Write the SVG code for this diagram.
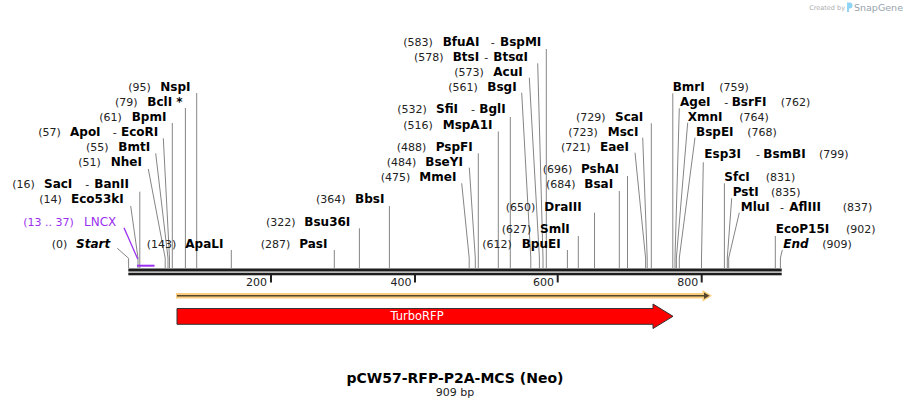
<svg xmlns="http://www.w3.org/2000/svg" width="910" height="408" viewBox="0 0 910 408">
<style>
text{font-family:"DejaVu Sans",Verdana,sans-serif}
.p{font-size:11px;fill:#222}
.n{font-size:12px;font-weight:bold;fill:#000}
.i{font-style:italic}
.d{font-size:11px;fill:#222}
.ln{stroke:#858585;stroke-width:1;fill:none}
.pu{fill:#9b30f0}
.tk{fill:#222}
</style>
<rect width="910" height="408" fill="#fff"/>

<g id="watermark">
<text x="845" y="10" font-size="6.5" fill="#adadad" text-anchor="end">Created by</text>
<path d="M847,2.5 h2.6 a3,3 0 0 1 0,6 h-0.6 v3.5 h-2 z" fill="#8fd3f5"/>
<text x="854" y="10.5" font-size="9.5" fill="#97a2ac">SnapGene</text>
</g>

<g id="connectors">
<polyline class="ln" points="196.7,93 196.7,268"/>
<polyline class="ln" points="185.4,108 185.4,268"/>
<polyline class="ln" points="172.3,123 172.3,268"/>
<polyline class="ln" points="163.3,138.3 169.5,258 169.5,268"/>
<polyline class="ln" points="155.7,153.3 168,258 168,268"/>
<polyline class="ln" points="148.3,169 165.2,258 165.2,268"/>
<polyline class="ln" points="139.8,191.7 139.8,268"/>
<polyline class="ln" points="130.7,206 138,258 138,268"/>
<polyline class="ln" points="117.3,248.3 128.6,258.3 128.6,268"/>
<polyline class="ln" points="231.3,250 231.3,268"/>
<polyline class="ln" points="546.3,49 546.3,268"/>
<polyline class="ln" points="537.7,63.3 543,258 543,268"/>
<polyline class="ln" points="529.3,77.7 539.4,258 539.4,268"/>
<polyline class="ln" points="521.7,92.7 530.8,258 530.8,268"/>
<polyline class="ln" points="510.3,117 510.3,268"/>
<polyline class="ln" points="498.3,131.5 498.3,268"/>
<polyline class="ln" points="478.3,153.3 478.3,268"/>
<polyline class="ln" points="469.3,167.7 475.3,258 475.3,268"/>
<polyline class="ln" points="461.7,183.3 469.2,258 469.2,268"/>
<polyline class="ln" points="389.4,206 389.4,268"/>
<polyline class="ln" points="359.4,228.3 359.4,268"/>
<polyline class="ln" points="334.3,250 334.3,268"/>
<polyline class="ln" points="567.4,250 567.4,268"/>
<polyline class="ln" points="578.3,236 578.3,268"/>
<polyline class="ln" points="594.5,212.7 594.5,268"/>
<polyline class="ln" points="619.3,191 619.3,268"/>
<polyline class="ln" points="627.5,176 627.5,268"/>
<polyline class="ln" points="635,152.7 645.6,258 645.6,268"/>
<polyline class="ln" points="642.7,137.7 647.2,258 647.2,268"/>
<polyline class="ln" points="651.3,123.3 651.3,268"/>
<polyline class="ln" points="672.8,93.3 672.8,268"/>
<polyline class="ln" points="679.3,108.3 675,258 675,268"/>
<polyline class="ln" points="687.7,122.7 676.4,258 676.4,268"/>
<polyline class="ln" points="695,137.7 679.3,258 679.3,268"/>
<polyline class="ln" points="703.3,162.3 701.5,258 701.5,268"/>
<polyline class="ln" points="724.4,183.3 724.4,268"/>
<polyline class="ln" points="731.7,198.3 727.3,258 727.3,268"/>
<polyline class="ln" points="739.3,212.7 728.7,258 728.7,268"/>
<polyline class="ln" points="775.3,236 775.3,268"/>
<polyline class="ln" points="782.3,250 780.4,258 780.4,268"/>
<line x1="124" y1="227.7" x2="137.7" y2="259" stroke="#9b30f0" stroke-width="1.3"/>
</g>

<g id="backbone">
<rect x="128.3" y="268.5" width="653.4" height="3" fill="#1e1e1e"/>
<rect x="128.3" y="272.7" width="653.4" height="2.6" fill="#1e1e1e"/>
<rect class="tk" x="270" y="275" width="2" height="7.5"/>
<rect class="tk" x="414" y="275" width="2" height="7.5"/>
<rect class="tk" x="556.7" y="275" width="2" height="7.5"/>
<rect class="tk" x="700.7" y="275" width="2" height="7.5"/>
<text class="d" x="267" y="285.7" text-anchor="end">200</text>
<text class="d" x="411.5" y="285.7" text-anchor="end">400</text>
<text class="d" x="554" y="285.7" text-anchor="end">600</text>
<text class="d" x="698.3" y="285.7" text-anchor="end">800</text>
</g>

<g id="LNCX">
<rect class="pu" x="137" y="264.7" width="17.5" height="2"/>
<text x="23.3" y="225.7" font-size="11" fill="#9b30f0">(13 .. 37)</text>
<text x="84" y="225.7" font-size="12" fill="#9b30f0">LNCX</text>
</g>

<g id="orf">
<path d="M176,295.8 H705" stroke="#fbcd7e" stroke-width="5.6"/>
<path d="M702.5,290 L712,295.8 L702.5,301.6 Z" fill="#fbcd7e"/>
<path d="M177,295.8 H705" stroke="#55462f" stroke-width="1.6"/>
<path d="M704,292.5 L709.5,295.8 L704,299.1 Z" fill="#55462f"/>
</g>

<g id="TurboRFP">
<path d="M177,308.5 H653 V304 L673,316.3 L653,328.5 V324.3 H177 Z" fill="#ff0000" stroke="#333" stroke-width="1"/>
<text x="417" y="320.3" font-size="11.5" fill="#fff" text-anchor="middle">TurboRFP</text>
</g>

<g id="title">
<text x="455" y="383.3" font-size="14" font-weight="bold" fill="#000" text-anchor="middle">pCW57-RFP-P2A-MCS (Neo)</text>
<text x="455" y="395.7" font-size="11" fill="#222" text-anchor="middle">909 bp</text>
</g>

<g id="NspI"><text class="p" x="128.3" y="90.7">(95)</text><text class="n" x="160.3" y="90.7">NspI</text></g>
<g id="BclI"><text class="p" x="115" y="105.7">(79)</text><text class="n" x="147.3" y="105.7">BclI *</text></g>
<g id="BpmI"><text class="p" x="99.3" y="120.7">(61)</text><text class="n" x="131.7" y="120.7">BpmI</text></g>
<g id="ApoI-EcoRI"><text class="p" x="38.3" y="135.7">(57)</text><text class="n" x="70" y="135.7">ApoI</text><text class="p" x="112.7" y="135.7">-</text><text class="n" x="121" y="135.7">EcoRI</text></g>
<g id="BmtI"><text class="p" x="86" y="150.7">(55)</text><text class="n" x="118.3" y="150.7">BmtI</text></g>
<g id="NheI"><text class="p" x="78.3" y="165.7">(51)</text><text class="n" x="110.7" y="165.7">NheI</text></g>
<g id="SacI-BanII"><text class="p" x="12.3" y="188.3">(16)</text><text class="n" x="44" y="188.3">SacI</text><text class="p" x="85.3" y="188.3">-</text><text class="n" x="94.3" y="188.3">BanII</text></g>
<g id="Eco53kI"><text class="p" x="39.3" y="203.3">(14)</text><text class="n" x="71" y="203.3">Eco53kI</text></g>
<g id="Start"><text class="p" x="51.7" y="248.3">(0)</text><text class="n i" x="76" y="248.3">Start</text></g>
<g id="ApaLI"><text class="p" x="146.7" y="248.3">(143)</text><text class="n" x="185.3" y="248.3">ApaLI</text></g>

<g id="BfuAI-BspMI"><text class="p" x="403.3" y="45.7">(583)</text><text class="n" x="442.7" y="45.7">BfuAI</text><text class="p" x="490.7" y="45.7">-</text><text class="n" x="500" y="45.7">BspMI</text></g>
<g id="BtsI-BtsaI"><text class="p" x="414" y="60.7">(578)</text><text class="n" x="452.7" y="60.7">BtsI</text><text class="p" x="484.3" y="60.7">-</text><text class="n" x="493.3" y="60.7">BtsαI</text></g>
<g id="AcuI"><text class="p" x="454.3" y="75.7">(573)</text><text class="n" x="493.3" y="75.7">AcuI</text></g>
<g id="BsgI"><text class="p" x="448.3" y="90.7">(561)</text><text class="n" x="487.3" y="90.7">BsgI</text></g>
<g id="SfiI-BglI"><text class="p" x="397.3" y="113.3">(532)</text><text class="n" x="436" y="113.3">SfiI</text><text class="p" x="471" y="113.3">-</text><text class="n" x="479.3" y="113.3">BglI</text></g>
<g id="MspA1I"><text class="p" x="403.3" y="128.5">(516)</text><text class="n" x="442.7" y="128.5">MspA1I</text></g>
<g id="PspFI"><text class="p" x="396.7" y="150.7">(488)</text><text class="n" x="435.7" y="150.7">PspFI</text></g>
<g id="BseYI"><text class="p" x="386.7" y="165.7">(484)</text><text class="n" x="425.3" y="165.7">BseYI</text></g>
<g id="MmeI"><text class="p" x="380.7" y="180.7">(475)</text><text class="n" x="419.3" y="180.7">MmeI</text></g>
<g id="BbsI"><text class="p" x="316" y="203.3">(364)</text><text class="n" x="355" y="203.3">BbsI</text></g>
<g id="Bsu36I"><text class="p" x="266" y="225.7">(322)</text><text class="n" x="304.3" y="225.7">Bsu36I</text></g>
<g id="PasI"><text class="p" x="260.7" y="248.3">(287)</text><text class="n" x="299.3" y="248.3">PasI</text></g>
<g id="BpuEI"><text class="p" x="482.3" y="248.3">(612)</text><text class="n" x="521.7" y="248.3">BpuEI</text></g>
<g id="SmlI"><text class="p" x="501.7" y="233.3">(627)</text><text class="n" x="540" y="233.3">SmlI</text></g>
<g id="DraIII"><text class="p" x="505.7" y="210.5">(650)</text><text class="n" x="544.3" y="210.5">DraIII</text></g>
<g id="BsaI"><text class="p" x="546" y="188.3">(684)</text><text class="n" x="584.3" y="188.3">BsaI</text></g>
<g id="PshAI"><text class="p" x="542.7" y="173.3">(696)</text><text class="n" x="581" y="173.3">PshAI</text></g>
<g id="EaeI"><text class="p" x="561" y="150.7">(721)</text><text class="n" x="600" y="150.7">EaeI</text></g>
<g id="MscI"><text class="p" x="568.3" y="135.7">(723)</text><text class="n" x="607.7" y="135.7">MscI</text></g>
<g id="ScaI"><text class="p" x="576" y="120.7">(729)</text><text class="n" x="615" y="120.7">ScaI</text></g>

<g id="BmrI"><text class="n" x="672.7" y="90.7">BmrI</text><text class="p" x="719.3" y="90.7">(759)</text></g>
<g id="AgeI-BsrFI"><text class="n" x="680" y="105.7">AgeI</text><text class="p" x="724.3" y="105.7">-</text><text class="n" x="731.7" y="105.7">BsrFI</text><text class="p" x="780.7" y="105.7">(762)</text></g>
<g id="XmnI"><text class="n" x="687.7" y="120.7">XmnI</text><text class="p" x="739.3" y="120.7">(764)</text></g>
<g id="BspEI"><text class="n" x="696" y="135.7">BspEI</text><text class="p" x="747.3" y="135.7">(768)</text></g>
<g id="Esp3I-BsmBI"><text class="n" x="704.3" y="158.3">Esp3I</text><text class="p" x="756" y="158.3">-</text><text class="n" x="763.3" y="158.3">BsmBI</text><text class="p" x="819" y="158.3">(799)</text></g>
<g id="SfcI"><text class="n" x="724.3" y="181">SfcI</text><text class="p" x="765.7" y="181">(831)</text></g>
<g id="PstI"><text class="n" x="732.7" y="196">PstI</text><text class="p" x="771" y="196">(835)</text></g>
<g id="MluI-AflIII"><text class="n" x="740.7" y="211">MluI</text><text class="p" x="780" y="211">-</text><text class="n" x="789.3" y="211">AflIII</text><text class="p" x="842.7" y="211">(837)</text></g>
<g id="EcoP15I"><text class="n" x="775.7" y="233.3">EcoP15I</text><text class="p" x="846" y="233.3">(902)</text></g>
<g id="End"><text class="n i" x="783.3" y="248.3">End</text><text class="p" x="822.3" y="248.3">(909)</text></g>
</svg>
